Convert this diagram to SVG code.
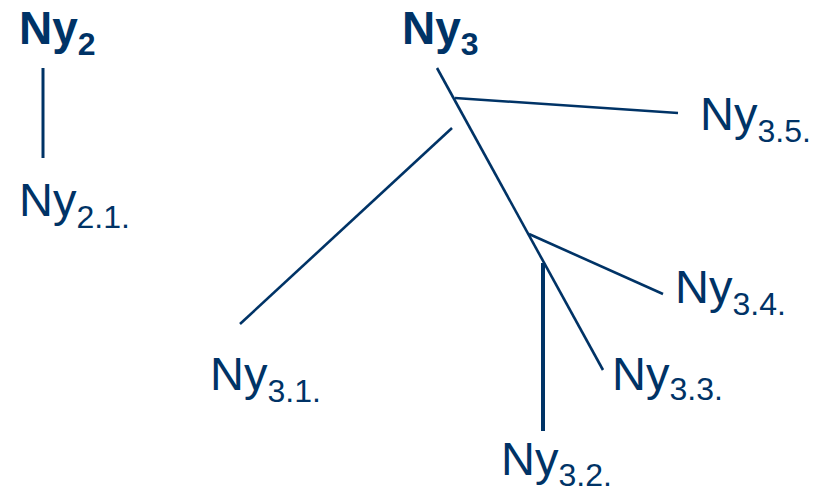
<svg xmlns="http://www.w3.org/2000/svg" width="823" height="491" viewBox="0 0 823 491">
<style>
text{font-family:"Liberation Sans",Arial,sans-serif;fill:#003366;font-size:47px}
.b{font-weight:bold;font-size:46px}
.s{font-size:32px}
.c line{stroke:#003366;stroke-width:2.6;stroke-linecap:butt}
</style>
<rect width="823" height="491" fill="#fff"/>
<g class="c" id="connectors">
<line x1="43" y1="68" x2="43" y2="158" style="stroke-width:3"/>
<line x1="437" y1="68" x2="603" y2="370"/>
<line x1="455" y1="98" x2="678" y2="113"/>
<line x1="452" y1="128" x2="240" y2="324"/>
<line x1="529" y1="234" x2="663" y2="294"/>
<line x1="543" y1="263" x2="543" y2="431" style="stroke-width:4"/>
</g>
<g id="ny2"><text class="b" x="19" y="44">Ny<tspan class="s" dy="11">2</tspan></text></g>
<g id="ny21"><text x="19" y="216">Ny<tspan class="s" dy="12">2.1.</tspan></text></g>
<g id="ny3"><text class="b" x="402" y="44">Ny<tspan class="s" dy="11">3</tspan></text></g>
<g id="ny35"><text x="700" y="130">Ny<tspan class="s" dy="12">3.5.</tspan></text></g>
<g id="ny31"><text x="210" y="390">Ny<tspan class="s" dy="12">3.1.</tspan></text></g>
<g id="ny32"><text x="501" y="475">Ny<tspan class="s" dy="11">3.2.</tspan></text></g>
<g id="ny34"><text x="675" y="303">Ny<tspan class="s" dy="12">3.4.</tspan></text></g>
<g id="ny33"><text x="612" y="390">Ny<tspan class="s" dy="10">3.3.</tspan></text></g>
</svg>
